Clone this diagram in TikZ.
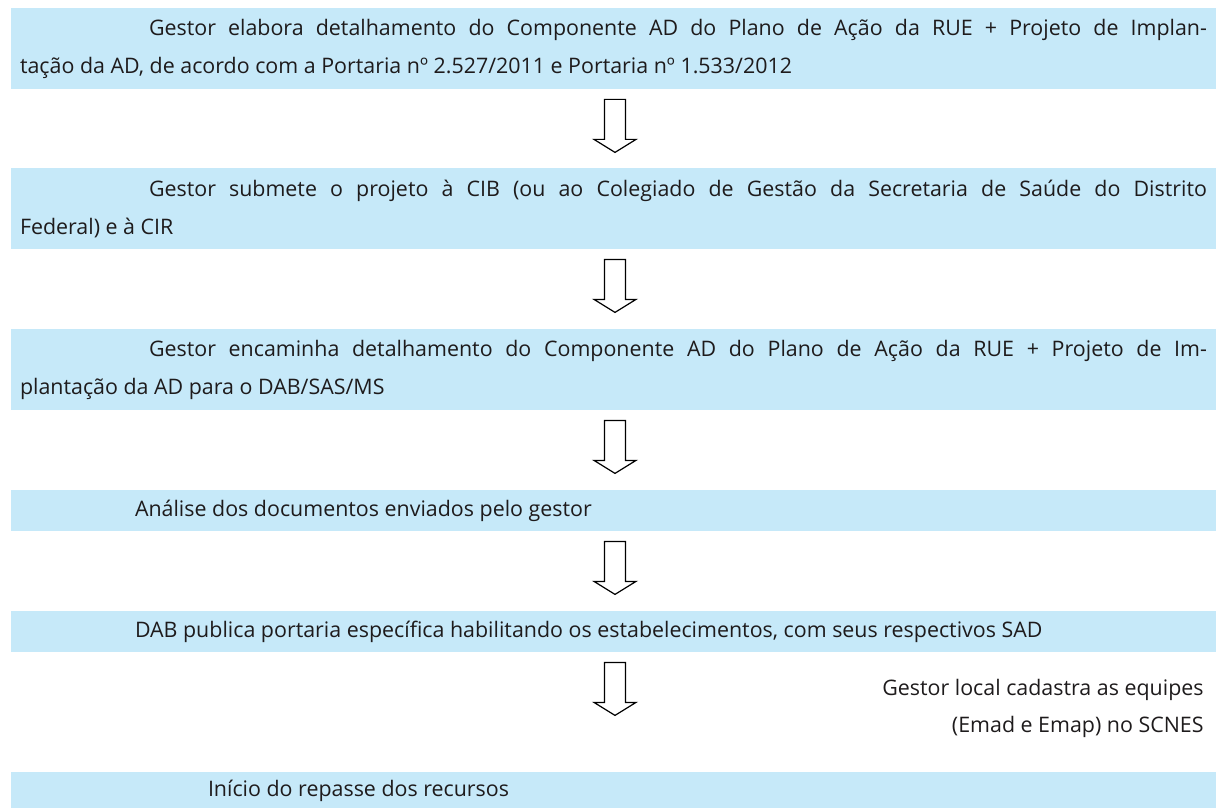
\documentclass[tikz,border=0pt]{standalone}
\usepackage{fontspec}
\setmainfont{Open Sans}
\usepackage{tikz}
\usetikzlibrary{calc}
\definecolor{boxcolor}{RGB}{198, 233, 249}
\definecolor{inkcolor}{RGB}{30, 27, 28}

\begin{document}
\begin{tikzpicture}[
    x=0.5pt, y=-0.5pt,
    stepbox/.style={fill=boxcolor, inner xsep=4.5pt, inner ysep=0pt, text width=593.5pt, align=justify, text=inkcolor, font=\fontsize{10.7pt}{19pt}\selectfont},
    twoline/.style={minimum height=40.5pt},
    oneline/.style={minimum height=20.5pt},
    note/.style={align=right, inner sep=0pt, text=inkcolor, font=\fontsize{10.7pt}{18.5pt}\selectfont},
    blockarrow/.style={draw=black, fill=white, line width=0.6pt, line join=miter}
]
    \useasboundingbox (0, 0) rectangle (1216, 808);

    % Steps
    \node[stepbox, twoline] (b1) at (613.5, 48.5) {\hspace*{64.5pt}Gestor elabora detalhamento do Componente AD do Plano de Ação da RUE + Projeto de Implan-\linebreak tação da AD, de acordo com a Portaria nº 2.527/2011 e Portaria nº 1.533/2012};

    \node[stepbox, twoline] (b2) at (613.5, 208.5) {\hspace*{64.5pt}Gestor submete o projeto à CIB (ou ao Colegiado de Gestão da Secretaria de Saúde do Distrito\linebreak Federal) e à CIR};

    \node[stepbox, twoline] (b3) at (613.5, 369.5) {\hspace*{64.5pt}Gestor encaminha detalhamento do Componente AD do Plano de Ação da RUE + Projeto de Im-\linebreak plantação da AD para o DAB/SAS/MS};

    \node[stepbox, oneline] (b4) at (613.5, 510.5) {\hspace*{57.5pt}Análise dos documentos enviados pelo gestor};

    \node[stepbox, oneline] (b5) at (613.5, 631.5) {\hspace*{57.5pt}DAB publica portaria específica habilitando os estabelecimentos, com seus respectivos SAD};

    \node[stepbox, minimum height=18.5pt] (b6) at (613.5, 790.5) {\hspace*{94pt}Início do repasse dos recursos};

    % Side note
    \node[note, anchor=east] (scnes) at (1204, 708) {Gestor local cadastra as equipes\\(Emad e Emap) no SCNES};

    % Arrows
    \foreach \b in {b1, b2, b3, b4, b5}
        \draw[blockarrow] ($(\b.south)+(-9, 10)$) -- ++(21, 0) -- ++(0, 40) -- ++(10.5, 0) -- ++(-21, 13) -- ++(-21, -13) -- ++(10.5, 0) -- cycle;

\end{tikzpicture}
\end{document}
